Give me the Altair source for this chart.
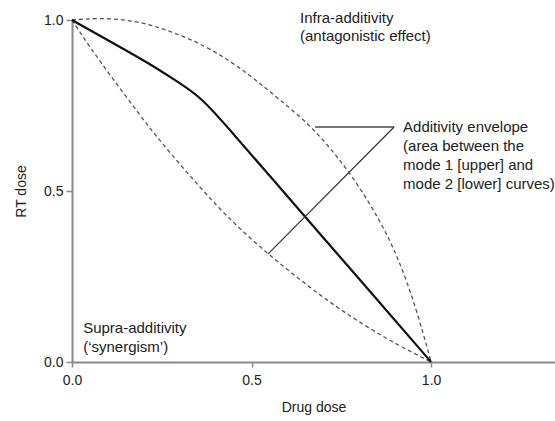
import altair as alt
import pandas as pd

FONT = "Liberation Sans"

# Axis ticks
drug_ticks = [0.0, 0.5, 1.0]
rt_ticks = [0.0, 0.5, 1.0]

# Observed isobole of the combined treatment
iso_drug = [0.0, 0.11, 0.22, 0.29, 0.36, 0.45, 0.55, 0.70, 0.85, 1.0]
iso_rt = [1.0, 0.935, 0.87, 0.822, 0.775, 0.666, 0.545, 0.363, 0.182, 0.0]

# Mode 1 (upper) boundary of the additivity envelope
mode1_drug = [0.0, 0.078, 0.16, 0.245, 0.384, 0.496, 0.579, 0.671, 0.774, 0.858, 0.91, 0.955, 1.0]
mode1_rt = [1.0, 1.006, 1.0, 0.980, 0.921, 0.839, 0.766, 0.687, 0.556, 0.415, 0.30, 0.17, 0.0]

# Mode 2 (lower) boundary of the additivity envelope
mode2_drug = [0.0, 0.05, 0.106, 0.189, 0.245, 0.357, 0.45, 0.546, 0.635, 0.73, 0.822, 0.91, 1.0]
mode2_rt = [1.0, 0.92, 0.839, 0.722, 0.646, 0.509, 0.405, 0.316, 0.240, 0.165, 0.102, 0.048, 0.0]

# Leader lines pointing at the envelope label
leader_h = {"x": [0.677], "x2": [0.897], "y": [0.687], "y2": [0.687]}
leader_d = {"x": [0.897], "x2": [0.546], "y": [0.687], "y2": [0.316]}

# Annotation text (one row per printed line)
note_text = [
    "Infra-additivity",
    "(antagonistic effect)",
    "Additivity envelope",
    "(area between the",
    "mode 1 [upper] and",
    "mode 2 [lower] curves)",
    "Supra-additivity",
    "(\u2018synergism\u2019)",
]
note_x = [0.635, 0.635, 0.922, 0.922, 0.922, 0.922, 0.031, 0.031]
note_y = [0.992, 0.940, 0.673, 0.618, 0.561, 0.506, 0.085, 0.029]

X_MAX = 1.345

x_scale = alt.Scale(domain=[0, X_MAX], nice=False, zero=True)
y_scale = alt.Scale(domain=[0, 1], nice=False, zero=True)

axis_common = dict(
    grid=False,
    format=".1f",
    labelFont=FONT,
    titleFont=FONT,
    labelFontSize=14,
    titleFontSize=14,
    titleFontWeight="normal",
    labelColor="#222222",
    titleColor="#222222",
    domainColor="#8a8a8a",
    domainWidth=2,
    tickColor="#8a8a8a",
    tickWidth=1.5,
    labelFlush=False,
)

x_axis = alt.Axis(values=drug_ticks, title="Drug dose", tickSize=5,
                  labelPadding=6, titlePadding=13, **axis_common)
y_axis = alt.Axis(values=rt_ticks, title="RT dose", tickSize=6,
                  labelPadding=3, titlePadding=15, **axis_common)

iso_df = pd.DataFrame({"drug": iso_drug, "rt": iso_rt})
m1_df = pd.DataFrame({"drug": mode1_drug, "rt": mode1_rt})
m2_df = pd.DataFrame({"drug": mode2_drug, "rt": mode2_rt})

isobole = alt.Chart(iso_df).mark_line(
    color="#111111", strokeWidth=2.2, interpolate="basis"
).encode(
    x=alt.X("drug:Q", scale=x_scale, axis=x_axis),
    y=alt.Y("rt:Q", scale=y_scale, axis=y_axis),
    order="drug:Q",
)

def envelope(df):
    return alt.Chart(df).mark_line(
        color="#555555", strokeWidth=1.3, strokeDash=[4, 3], interpolate="basis"
    ).encode(
        x=alt.X("drug:Q", scale=x_scale),
        y=alt.Y("rt:Q", scale=y_scale),
        order="drug:Q",
    )

upper = envelope(m1_df)
lower = envelope(m2_df)

rule_h = alt.Chart(pd.DataFrame(leader_h)).mark_rule(
    color="#777777", strokeWidth=2
).encode(
    x=alt.X("x:Q", scale=x_scale), x2="x2:Q",
    y=alt.Y("y:Q", scale=y_scale), y2="y2:Q",
)

rule_d = alt.Chart(pd.DataFrame(leader_d)).mark_rule(
    color="#333333", strokeWidth=1.2
).encode(
    x=alt.X("x:Q", scale=x_scale), x2="x2:Q",
    y=alt.Y("y:Q", scale=y_scale), y2="y2:Q",
)

notes = alt.Chart(pd.DataFrame({"x": note_x, "y": note_y, "t": note_text})).mark_text(
    align="left", baseline="alphabetic", font=FONT, fontSize=15, color="#222222"
).encode(
    x=alt.X("x:Q", scale=x_scale),
    y=alt.Y("y:Q", scale=y_scale),
    text="t:N",
)

chart = alt.layer(upper, lower, isobole, rule_h, rule_d, notes).properties(
    width=483,
    height=342,
    autosize=alt.AutoSizeParams(type="none"),
    padding={"left": 72, "top": 20, "right": 0, "bottom": 59},
    background="white",
).configure_view(stroke=None)

chart.save("out.html", embed_options={"renderer": "svg", "actions": False})
